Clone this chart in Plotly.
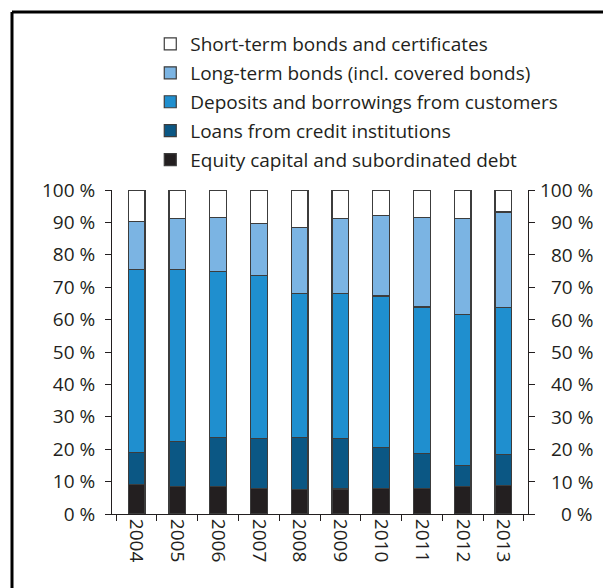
import plotly.graph_objects as go

years = ["2004", "2005", "2006", "2007", "2008", "2009", "2010", "2011", "2012", "2013"]
equity = [9.2, 8.4, 8.4, 7.8, 7.5, 7.7, 7.8, 7.9, 8.5, 8.9]
loans = [9.9, 13.9, 15.3, 15.5, 16.2, 15.5, 12.8, 10.8, 6.4, 9.4]
deposits = [56.4, 53.2, 51.2, 50.3, 44.3, 44.9, 46.7, 45.2, 46.6, 45.4]
long_term = [14.8, 15.6, 16.5, 16.1, 20.4, 23.2, 24.9, 27.6, 29.8, 29.5]
short_term = [9.7, 8.9, 8.6, 10.3, 11.6, 8.7, 7.8, 8.5, 8.7, 6.8]

series = [
    ("Equity capital and subordinated debt", equity, "#231f20"),
    ("Loans from credit institutions", loans, "#0b5784"),
    ("Deposits and borrowings from customers", deposits, "#1f8fcf"),
    ("Long-term bonds (incl. covered bonds)", long_term, "#7bb4e3"),
    ("Short-term bonds and certificates", short_term, "#ffffff"),
]

tickvals = [0, 10, 20, 30, 40, 50, 60, 70, 80, 90, 100]
ticktext = [f"{v} %" for v in tickvals]

FONT = "Open Sans"
FS = 19
TXT = "#231f20"
fig = go.Figure()
n = len(series)
for i, (name, vals, col) in enumerate(series):
    fig.add_trace(go.Bar(
        x=years, y=vals, name=name, legendgroup=f"g{i}",
        legendrank=1000 + (n - i),
        marker=dict(color=col, line=dict(color="#3c3c3c", width=1.2)),
    ))
# invisible trace to anchor right axis
fig.add_trace(go.Scatter(x=years, y=[None] * len(years), yaxis="y2",
                         showlegend=False, hoverinfo="skip"))

# page is offset by the 8px body margin
W, H = 603, 580
L, R, T, B = 104, 520, 182, 506
fig.update_layout(
    width=W, height=H,
    margin=dict(l=L, r=W - R, t=T, b=H - B, pad=0),
    barmode="stack", bargap=0.59,
    plot_bgcolor="white", paper_bgcolor="white",
    font=dict(family=FONT, size=FS, color=TXT),
    legend=dict(
        traceorder="grouped", tracegroupgap=1.2,
        x=0.092, xanchor="left", y=1.509, yanchor="top",
        font=dict(size=FS), bgcolor="rgba(0,0,0,0)",
    ),
    xaxis=dict(
        type="category", tickangle=90, showline=True, linecolor=TXT,
        linewidth=1, ticks="outside", tickson="boundaries", ticklen=6,
        tickcolor=TXT, showgrid=False, zeroline=False,
    ),
    yaxis=dict(
        range=[0, 100], tickvals=tickvals, ticktext=ticktext,
        showline=True, linecolor=TXT, linewidth=1, ticks="outside",
        ticklen=6, tickcolor=TXT, showgrid=False, zeroline=False,
        ticklabelstandoff=6,
    ),
    yaxis2=dict(
        range=[0, 100], tickvals=tickvals, showticklabels=False,
        overlaying="y", side="right", showline=True, linecolor=TXT,
        linewidth=1, ticks="outside", ticklen=6, tickcolor=TXT,
        showgrid=False, zeroline=False,
    ),
    showlegend=True,
)

# right-aligned tick labels for the right axis
rx = (587 - L) / (R - L)
for v, t in zip(tickvals, ticktext):
    fig.add_annotation(x=rx, xref="paper", y=v, yref="y", text=t,
                       showarrow=False, xanchor="right", yanchor="middle",
                       font=dict(size=FS, color=TXT))

# frame lines (left and top)
fx = (4 - L) / (R - L)
fy = (B - 4) / (B - T)
fig.add_shape(type="line", xref="paper", yref="paper", x0=fx, x1=fx,
              y0=fy, y1=-0.5, line=dict(color="black", width=3))
fig.add_shape(type="line", xref="paper", yref="paper", x0=fx, x1=1.5,
              y0=fy, y1=fy, line=dict(color="black", width=3))

fig.write_html("out.html")
